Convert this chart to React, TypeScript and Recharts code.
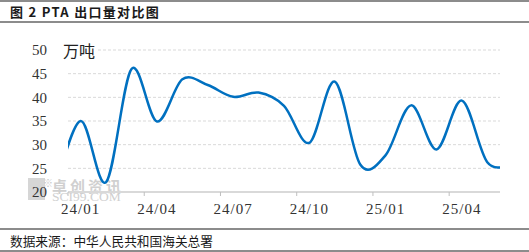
import React from 'react';
import { LineChart, Line, XAxis, YAxis, CartesianGrid } from 'recharts';

// monthly export volume, 10k tonnes; 23/12 and 25/06 sit just outside the visible window
const months = ['23/12', '24/01', '24/02', '24/03', '24/04', '24/05', '24/06', '24/07', '24/08', '24/09', '24/10', '24/11', '24/12', '25/01', '25/02', '25/03', '25/04', '25/05', '25/06'];
const exportVolume = [21, 35.0, 22.1, 46.0, 34.9, 43.8, 42.6, 40.1, 41.0, 38.2, 30.4, 43.3, 25.8, 27.8, 38.3, 29.0, 39.3, 26.3, 25.8];
const tickLabels = ['24/01', '24/04', '24/07', '24/10', '25/01', '25/04'];
const yTicks = [20, 25, 30, 35, 40, 45, 50];

const W = 529;
const H = 252;
const PLOT_LEFT = 68;
const PLOT_RIGHT = 29;
const MONTHS_SHOWN = 17;
const halfMonth = (W - PLOT_LEFT - PLOT_RIGHT) / MONTHS_SHOWN / 2;

const data = months.map((m, i) => ({ month: m, t: i - 0.5, value: exportVolume[i] }));
const xTicks = tickLabels.map((_, i) => i * 3);

// Excel-style smoothed line (Catmull-Rom as cubic bezier)
const smoothCurve = (context: any) => {
  let pts: number[][] = [];
  return {
    areaStart() {},
    areaEnd() {},
    lineStart() {
      pts = [];
    },
    point(x: number, y: number) {
      pts.push([+x, +y]);
    },
    lineEnd() {
      if (!pts.length) return;
      context.moveTo(pts[0][0], pts[0][1]);
      for (let i = 0; i < pts.length - 1; i++) {
        const p0 = pts[i - 1] || pts[i];
        const p1 = pts[i];
        const p2 = pts[i + 1];
        const p3 = pts[i + 2] || p2;
        context.bezierCurveTo(
          p1[0] + (p2[0] - p0[0]) / 6,
          p1[1] + (p2[1] - p0[1]) / 6,
          p2[0] - (p3[0] - p1[0]) / 6,
          p2[1] - (p3[1] - p1[1]) / 6,
          p2[0],
          p2[1]
        );
      }
    },
  };
};

const MonthTick = (props: any) => {
  const { x, y, payload } = props;
  const label = tickLabels[Math.round(payload.value / 3)];
  return (
    <text
      x={x + halfMonth}
      y={y + 16}
      textAnchor="middle"
      fill="#333"
      fontSize={15}
      letterSpacing={1}
      fontFamily="'Liberation Serif', serif"
    >
      {label}
    </text>
  );
};

const cjk = "'Noto Sans CJK SC', sans-serif";

export default function App() {
  return (
    <div style={{ position: 'absolute', left: 0, top: 0, width: W, height: H, background: '#fff', overflow: 'hidden' }}>
      {/* header */}
      <div style={{ position: 'absolute', left: 0, top: 0, width: W, height: 2, background: '#8c8c8c' }} />
      <div style={{ position: 'absolute', left: 10, top: 3, fontFamily: cjk, fontSize: 13, fontWeight: 700, letterSpacing: 1.3, color: '#1a1a1a', lineHeight: '18px', whiteSpace: 'nowrap' }}>
        图 2 PTA 出口量对比图
      </div>
      <div style={{ position: 'absolute', left: 0, top: 21, width: W, height: 2, background: '#8c8c8c' }} />

      {/* watermark, under the chart */}
      <div style={{ position: 'absolute', left: 28, top: 178, width: 17, height: 22, background: '#d6d6d6' }} />
      <div style={{ position: 'absolute', left: 43, top: 177, fontFamily: cjk, fontSize: 10, color: '#c8c8c8', lineHeight: '12px' }}>※</div>
      <div style={{ position: 'absolute', left: 52, top: 177, fontFamily: cjk, fontSize: 15, fontWeight: 700, letterSpacing: 3, color: '#d0d0d0', lineHeight: '17px', whiteSpace: 'nowrap' }}>
        卓创资讯
      </div>
      <div style={{ position: 'absolute', left: 52, top: 190, fontFamily: "'Liberation Serif', serif", fontSize: 13.5, color: '#d0d0d0', lineHeight: '14px', whiteSpace: 'nowrap' }}>
        SCI99.COM
      </div>

      <div style={{ position: 'absolute', left: 0, top: 0 }}>
        <LineChart width={W} height={H} data={data} margin={{ top: 50, right: PLOT_RIGHT, bottom: 30, left: 0 }}>
          <CartesianGrid vertical={false} stroke="#d9d9d9" strokeDasharray="3 2" />
          <XAxis
            type="number"
            dataKey="t"
            domain={[0, MONTHS_SHOWN]}
            allowDataOverflow
            ticks={xTicks}
            interval={0}
            height={30}
            axisLine={{ stroke: '#d9d9d9', strokeWidth: 2 }}
            tickLine={{ stroke: '#bfbfbf' }}
            tickSize={4}
            tick={<MonthTick />}
          />
          <YAxis
            domain={[20, 50]}
            ticks={yTicks}
            width={PLOT_LEFT}
            axisLine={false}
            tickLine={false}
            tickSize={0}
            tickMargin={21}
            tick={{ fill: '#333', fontSize: 15, fontFamily: "'Liberation Serif', serif" }}
          />
          <Line
            type={smoothCurve as any}
            dataKey="value"
            stroke="#0070c0"
            strokeWidth={2.5}
            dot={false}
            activeDot={false}
            isAnimationActive={false}
          />
        </LineChart>
      </div>

      {/* unit label */}
      <div style={{ position: 'absolute', left: 62, top: 40, padding: '0 3px 0 1px', background: '#fff', fontFamily: cjk, fontSize: 16, color: '#222', lineHeight: '20px', whiteSpace: 'nowrap' }}>
        万吨
      </div>

      {/* footer */}
      <div style={{ position: 'absolute', left: 0, top: 228, width: W, height: 2, background: '#8c8c8c' }} />
      <div style={{ position: 'absolute', left: 10, top: 232, fontFamily: cjk, fontSize: 12.7, color: '#1a1a1a', lineHeight: '18px', whiteSpace: 'nowrap' }}>
        数据来源：中华人民共和国海关总署
      </div>
      <div style={{ position: 'absolute', left: 0, top: 250, width: W, height: 2, background: '#8c8c8c' }} />
    </div>
  );
}
